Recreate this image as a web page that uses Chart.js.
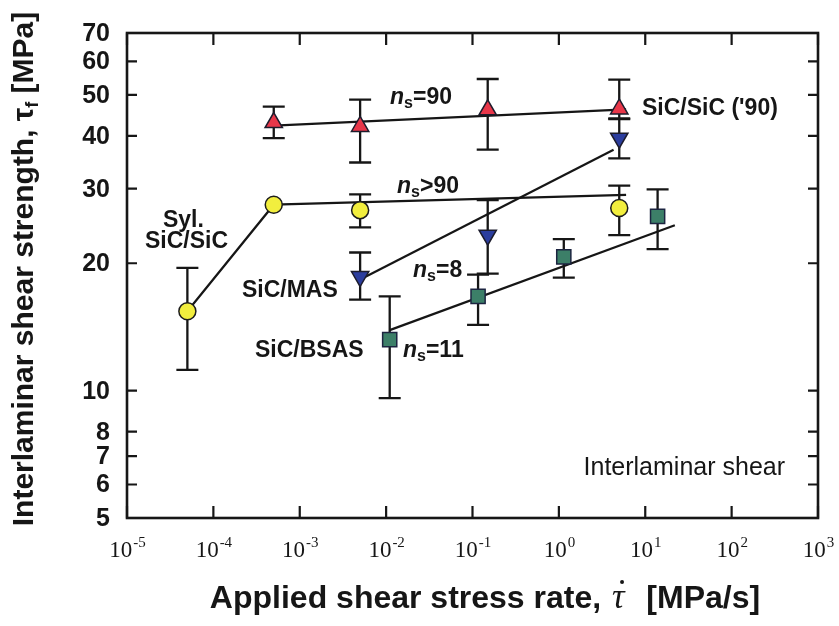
<!DOCTYPE html>
<html><head><meta charset="utf-8">
<script src="https://cdn.jsdelivr.net/npm/chart.js@4.4.1/dist/chart.umd.min.js"></script>
<style>html,body{margin:0;padding:0;background:#fff;}canvas{display:block;}</style>
</head><body>
<canvas id="c" width="839" height="626"></canvas>
<script>
// ---- tick labels ----
const xTicks = [1e-5, 1e-4, 1e-3, 1e-2, 1e-1, 1e0, 1e1, 1e2, 1e3];
const xTickExp = ['-5', '-4', '-3', '-2', '-1', '0', '1', '2', '3'];
const yTicks = [5, 6, 7, 8, 10, 20, 30, 40, 50, 60, 70];
const yTickLabels = ['5', '6', '7', '8', '10', '20', '30', '40', '50', '60', '70'];

// ---- SiC/SiC ('90) : red up-triangles ----
const sicX  = [5e-4, 5e-3, 0.15, 5];
const sicY  = [43.0, 42.1, 46.1, 46.3];
const sicLo = [39.5, 34.6, 37.1, 44.0];
const sicHi = [46.9, 48.7, 54.5, 54.3];
const sicFitX = [5e-4, 6];
const sicFitY = [42.3, 46.2];

// ---- Syl. SiC/SiC : yellow circles ----
const sylX  = [5e-5, 5e-4, 5e-3, 5];
const sylY  = [15.4, 27.5, 26.7, 27.0];
const sylLo = [11.2, null, 24.3, 23.3];
const sylHi = [19.5, null, 29.1, 30.5];
const sylFitX = [5e-5, 5e-4, 6];
const sylFitY = [15.4, 27.5, 29.0];

// ---- SiC/MAS : blue down-triangles ----
const masX  = [5e-3, 0.15, 5];
const masY  = [18.6, 23.3, 39.5];
const masLo = [16.4, 18.9, 35.4];
const masHi = [21.2, 28.2, 43.8];
const masFitX = [5e-3, 4.3];
const masFitY = [18.3, 37.1];

// ---- SiC/BSAS : green squares ----
const bsasX  = [0.011, 0.116, 1.14, 13.9];
const bsasY  = [13.2, 16.7, 20.7, 25.8];
const bsasLo = [9.6, 14.3, 18.5, 21.6];
const bsasHi = [16.7, 18.8, 22.8, 29.9];
const bsasFitX = [0.011, 22];
const bsasFitY = [13.9, 24.6];

// ---- annotation texts (anchored in data coordinates) ----
const annotations = [
  { parts: [['n', 'i'], ['s', 'sub'], ['=90', 'b']], x: 0.0111, y: 47.5, align: 'left' },
  { parts: [["SiC/SiC ('90)", 'b']], x: 9.17, y: 44.8, align: 'left' },
  { parts: [['n', 'i'], ['s', 'sub'], ['>90', 'b']], x: 0.01337, y: 29.3, align: 'left' },
  { parts: [['Syl.', 'b']], x: 4.5e-5, y: 24.4, align: 'center' },
  { parts: [['SiC/SiC', 'b']], x: 4.89e-5, y: 21.7, align: 'center' },
  { parts: [['SiC/MAS', 'b']], x: 2.14e-4, y: 16.6, align: 'left' },
  { parts: [['n', 'i'], ['s', 'sub'], ['=8', 'b']], x: 0.0205, y: 18.6, align: 'left' },
  { parts: [['SiC/BSAS', 'b']], x: 3.03e-4, y: 12.0, align: 'left' },
  { parts: [['n', 'i'], ['s', 'sub'], ['=11', 'b']], x: 0.01567, y: 12.0, align: 'left' },
  { parts: [['Interlaminar shear', 'r']], x: 415, y: 6.32, align: 'right' }
];

const zip = (xs, ys) => xs.map((v, i) => ({ x: v, y: ys[i] }));
const SANS = '"Liberation Sans", Arial, Helvetica, sans-serif';
const SERIF = '"Liberation Serif", "Times New Roman", serif';
const INK = '#161616';

function fitLine(xs, ys) {
  return { data: zip(xs, ys), showLine: true, pointRadius: 0, borderColor: INK,
           borderWidth: 2.2, fill: false, order: 2, tension: 0 };
}

const errorBarPlugin = {
  id: 'errorBars',
  beforeDatasetsDraw(chart) {
    const { ctx, scales: { x, y } } = chart;
    ctx.save();
    ctx.strokeStyle = INK;
    ctx.lineWidth = 2.3;
    chart.data.datasets.forEach(ds => {
      if (!ds.errLo) return;
      ds.data.forEach((p, i) => {
        const lo = ds.errLo[i], hi = ds.errHi[i];
        if (lo == null || hi == null) return;
        const px = x.getPixelForValue(p.x);
        const pl = y.getPixelForValue(lo);
        const ph = y.getPixelForValue(hi);
        ctx.beginPath();
        ctx.moveTo(px, pl); ctx.lineTo(px, ph);
        ctx.moveTo(px - 11, pl); ctx.lineTo(px + 11, pl);
        ctx.moveTo(px - 11, ph); ctx.lineTo(px + 11, ph);
        ctx.stroke();
      });
    });
    ctx.restore();
  }
};

function drawParts(ctx, parts, px, py, size, align) {
  const fontFor = k => {
    if (k === 'i') return `italic bold ${size}px ${SANS}`;
    if (k === 'sub') return `bold ${Math.round(size * 0.68)}px ${SANS}`;
    if (k === 'r') return `${size}px ${SANS}`;
    return `bold ${size}px ${SANS}`;
  };
  let total = 0;
  parts.forEach(([t, k]) => { ctx.font = fontFor(k); total += ctx.measureText(t).width; });
  let cx = align === 'center' ? px - total / 2 : align === 'right' ? px - total : px;
  ctx.textAlign = 'left';
  ctx.textBaseline = 'alphabetic';
  parts.forEach(([t, k]) => {
    ctx.font = fontFor(k);
    ctx.fillText(t, cx, k === 'sub' ? py + 4 : py);
    cx += ctx.measureText(t).width;
  });
}

const framePlugin = {
  id: 'frame',
  afterDraw(chart) {
    const { ctx, chartArea: a, scales: { x, y } } = chart;
    ctx.save();
    ctx.strokeStyle = INK;
    ctx.fillStyle = INK;
    // ticks
    ctx.lineWidth = 2.2;
    ctx.beginPath();
    xTicks.forEach(v => {
      const px = x.getPixelForValue(v);
      ctx.moveTo(px, a.bottom); ctx.lineTo(px, a.bottom - 12);
      ctx.moveTo(px, a.top); ctx.lineTo(px, a.top + 12);
    });
    yTicks.forEach(v => {
      const py = y.getPixelForValue(v);
      ctx.moveTo(a.left, py); ctx.lineTo(a.left + 10, py);
      ctx.moveTo(a.right, py); ctx.lineTo(a.right - 10, py);
    });
    ctx.stroke();
    // frame
    ctx.lineWidth = 2.6;
    ctx.strokeRect(a.left, a.top, a.right - a.left, a.bottom - a.top);

    // y tick labels
    ctx.font = `bold 25px ${SANS}`;
    ctx.textAlign = 'right';
    ctx.textBaseline = 'middle';
    yTicks.forEach((v, i) => {
      ctx.fillText(yTickLabels[i], a.left - 17, y.getPixelForValue(v) + 1);
    });

    // x tick labels: 10 with superscript exponent
    ctx.textBaseline = 'alphabetic';
    ctx.textAlign = 'left';
    xTicks.forEach((v, i) => {
      const px = x.getPixelForValue(v);
      ctx.font = `23px ${SERIF}`;
      const w1 = ctx.measureText('10').width;
      ctx.font = `15px ${SERIF}`;
      const w2 = ctx.measureText(xTickExp[i]).width;
      const start = px - (w1 + w2) / 2;
      ctx.font = `23px ${SERIF}`;
      ctx.fillText('10', start, a.bottom + 39);
      ctx.font = `15px ${SERIF}`;
      ctx.fillText(xTickExp[i], start + w1 + 1, a.bottom + 29);
    });

    // annotations
    annotations.forEach(an => {
      drawParts(ctx, an.parts, x.getPixelForValue(an.x), y.getPixelForValue(an.y),
                an.parts[0][1] === 'r' ? 25 : 23, an.align);
    });

    // x axis title
    {
      const p1 = 'Applied shear stress rate, ';
      const p3 = '  [MPa/s]';
      const fb = `bold 32px ${SANS}`;
      const fi = `italic 35px ${SERIF}`;
      ctx.font = fb; const w1 = ctx.measureText(p1).width; const w3 = ctx.measureText(p3).width;
      ctx.font = fi; const w2 = ctx.measureText('\u03C4').width + 6;
      const cx = 485;
      let sx = cx - (w1 + w2 + w3) / 2;
      const by = 608;
      ctx.textAlign = 'left';
      ctx.font = fb; ctx.fillText(p1, sx, by); sx += w1;
      ctx.font = fi; ctx.fillText('\u03C4', sx + 2, by);
      ctx.beginPath(); ctx.arc(sx + 12, by - 26, 2, 0, Math.PI * 2); ctx.fill();
      sx += w2;
      ctx.font = fb; ctx.fillText(p3, sx, by);
    }

    // y axis title (rotated)
    {
      ctx.save();
      ctx.translate(33, 269);
      ctx.rotate(-Math.PI / 2);
      const p1 = 'Interlaminar shear strength, \u03C4';
      const p2 = 'f';
      const p3 = ' [MPa]';
      const fb = `bold 30px ${SANS}`;
      const fs = `bold 18px ${SANS}`;
      ctx.font = fb; const w1 = ctx.measureText(p1).width; const w3 = ctx.measureText(p3).width;
      ctx.font = fs; const w2 = ctx.measureText(p2).width;
      let sx = -(w1 + w2 + w3) / 2;
      ctx.textAlign = 'left';
      ctx.textBaseline = 'alphabetic';
      ctx.font = fb; ctx.fillText(p1, sx, 0); sx += w1;
      ctx.font = fs; ctx.fillText(p2, sx, 5); sx += w2;
      ctx.font = fb; ctx.fillText(p3, sx, 0);
      ctx.restore();
    }
    ctx.restore();
  }
};

new Chart(document.getElementById('c'), {
  type: 'scatter',
  data: {
    datasets: [
      fitLine(sicFitX, sicFitY),
      fitLine(sylFitX, sylFitY),
      fitLine(masFitX, masFitY),
      fitLine(bsasFitX, bsasFitY),
      { label: "SiC/SiC ('90)", data: zip(sicX, sicY), errLo: sicLo, errHi: sicHi,
        pointStyle: 'triangle', pointRadius: 10, backgroundColor: '#e8374a',
        borderColor: '#1c1c2c', borderWidth: 1.5, order: 1 },
      { label: 'Syl. SiC/SiC', data: zip(sylX, sylY), errLo: sylLo, errHi: sylHi,
        pointStyle: 'circle', pointRadius: 8.5, backgroundColor: '#f2ee3e',
        borderColor: '#1c1c1c', borderWidth: 1.5, order: 1 },
      { label: 'SiC/MAS', data: zip(masX, masY), errLo: masLo, errHi: masHi,
        pointStyle: 'triangle', pointRotation: 180, pointRadius: 10, backgroundColor: '#2b3d9e',
        borderColor: '#1c1c2c', borderWidth: 1.5, order: 1 },
      { label: 'SiC/BSAS', data: zip(bsasX, bsasY), errLo: bsasLo, errHi: bsasHi,
        pointStyle: 'rect', pointRadius: 10, backgroundColor: '#3c7f68',
        borderColor: '#1c2440', borderWidth: 1.5, order: 1 }
    ]
  },
  options: {
    responsive: false,
    animation: false,
    layout: { padding: { top: 33, right: 21, left: 0, bottom: 0 } },
    plugins: { legend: { display: false }, tooltip: { enabled: false } },
    scales: {
      x: { type: 'logarithmic', min: 1e-5, max: 1e3,
           ticks: { display: false }, grid: { display: false }, border: { display: false },
           afterFit: s => { s.height = 108; } },
      y: { type: 'logarithmic', min: 5, max: 70,
           ticks: { display: false }, grid: { display: false }, border: { display: false },
           afterFit: s => { s.width = 127; } }
    }
  },
  plugins: [errorBarPlugin, framePlugin]
});
</script>
</body></html>
